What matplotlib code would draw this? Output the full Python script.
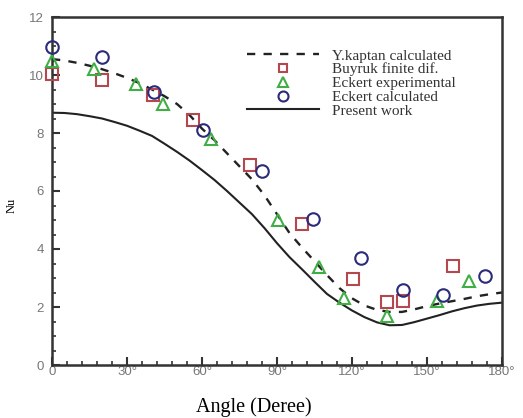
import matplotlib
matplotlib.use("Agg")
import matplotlib.pyplot as plt
from matplotlib.ticker import MultipleLocator

# ---- data ----
curve_deg = [0, 5, 10, 15, 20, 25, 30, 35, 40, 45, 50, 55, 60, 65, 70, 75, 80, 85, 90,
             95, 100, 105, 110, 115, 120, 125, 130, 135, 140, 145, 150, 155, 160, 165,
             170, 175, 180]
kaptan_nu = [10.55, 10.5, 10.42, 10.32, 10.2, 10.06, 9.9, 9.72, 9.5, 9.27, 9.0, 8.62,
             8.15, 7.75, 7.3, 6.85, 6.4, 5.85, 5.2, 4.55, 4.05, 3.58, 3.1, 2.65, 2.3,
             2.05, 1.9, 1.83, 1.83, 1.92, 2.03, 2.12, 2.2, 2.28, 2.37, 2.44, 2.5]
present_nu = [8.7, 8.69, 8.65, 8.58, 8.5, 8.38, 8.25, 8.08, 7.9, 7.63, 7.35, 7.05, 6.72,
              6.38, 6.0, 5.6, 5.2, 4.72, 4.2, 3.72, 3.3, 2.87, 2.45, 2.15, 1.88, 1.65,
              1.47, 1.37, 1.38, 1.48, 1.6, 1.72, 1.85, 1.96, 2.05, 2.11, 2.15]

buyruk_deg = [0, 20, 40.4, 56.5, 79.2, 100, 120.4, 134, 140.4, 160.4]
buyruk_nu = [10.05, 9.83, 9.31, 8.45, 6.9, 4.86, 2.97, 2.17, 2.2, 3.4]

eckert_exp_deg = [0, 16.8, 33.4, 44.2, 63.6, 90.4, 106.8, 116.6, 134, 153.8, 166.6]
eckert_exp_nu = [10.5, 10.2, 9.7, 9.0, 7.8, 5.0, 3.38, 2.3, 1.69, 2.22, 2.88]

eckert_calc_deg = [0, 20, 40.8, 60.4, 84, 104.2, 123.6, 140.4, 156.4, 173]
eckert_calc_nu = [10.95, 10.62, 9.43, 8.1, 6.7, 5.03, 3.7, 2.59, 2.4, 3.07]

xticks = [0, 30, 60, 90, 120, 150, 180]
xtick_labels = ["0", "30°", "60°", "90°", "120°", "150°", "180°"]
yticks = [0, 2, 4, 6, 8, 10, 12]

labels = ["Y.kaptan calculated", "Buyruk finite dif.", "Eckert experimental",
          "Eckert calculated", "Present work"]

# ---- figure ----
fig = plt.figure(figsize=(5.23, 4.18), dpi=100)
ax = fig.add_axes([52/523, 1 - 365/418, 450/523, 348/418])

line_col = "#222222"
ax.plot(curve_deg, kaptan_nu, linestyle=(0, (3.5, 3.5)), color=line_col, lw=1.7,
        label=labels[0], zorder=2)
ax.plot(buyruk_deg, buyruk_nu, linestyle="none", marker="s", ms=8, mfc="none",
        mec="#b5474f", mew=1.5, label=labels[1], zorder=3, clip_on=False)
ax.plot(eckert_exp_deg, eckert_exp_nu, linestyle="none", marker="^", ms=9, mfc="none",
        mec="#3fae45", mew=1.5, label=labels[2], zorder=3, clip_on=False)
ax.plot(eckert_calc_deg, eckert_calc_nu, linestyle="none", marker="o", ms=9, mfc="none",
        mec="#2b2b7a", mew=1.5, label=labels[3], zorder=3, clip_on=False)
ax.plot(curve_deg, present_nu, linestyle="-", color=line_col, lw=1.5,
        label=labels[4], zorder=2)

ax.set_xlim(0, 180)
ax.set_ylim(0, 12)
ax.set_xticks(xticks)
ax.set_xticklabels(xtick_labels)
ax.set_yticks(yticks)
ax.xaxis.set_minor_locator(MultipleLocator(6))
ax.yaxis.set_minor_locator(MultipleLocator(0.5))

tick_col = "#777777"
ax.tick_params(axis="both", which="major", direction="in", length=6, width=1.5,
               color="#333333", labelcolor=tick_col, labelsize=9.5,
               top=False, right=False)
ax.tick_params(axis="both", which="minor", direction="in", length=3, width=1.2,
               color="#333333", top=False, right=False)
ax.tick_params(axis="x", which="major", pad=1)
ax.tick_params(axis="y", which="major", pad=6)
for lab in ax.get_xticklabels() + ax.get_yticklabels():
    lab.set_family(["Liberation Sans", "DejaVu Sans"])

for sp in ax.spines.values():
    sp.set_linewidth(1.8)
    sp.set_color("#333333")

ax.set_xlabel("Angle (Deree)", family="Liberation Serif", fontsize=14.5)
ax.xaxis.label.set_va("center")
ax.xaxis.set_label_coords(0.449, -0.121)
ax.set_ylabel("Nu", family="Liberation Serif", fontsize=9)
ax.yaxis.label.set_va("center")
ax.yaxis.set_label_coords(-0.089, 0.46)

leg = ax.legend(loc="upper left", bbox_to_anchor=(0.433, 0.908), frameon=False,
                borderaxespad=0, borderpad=0, handlelength=4.75, handletextpad=0.85,
                labelspacing=0.0, markerscale=0.8,
                prop={"family": "Liberation Serif", "size": 11})
for t in leg.get_texts():
    t.set_color("#333333")

fig.savefig("out.png", dpi=100)
